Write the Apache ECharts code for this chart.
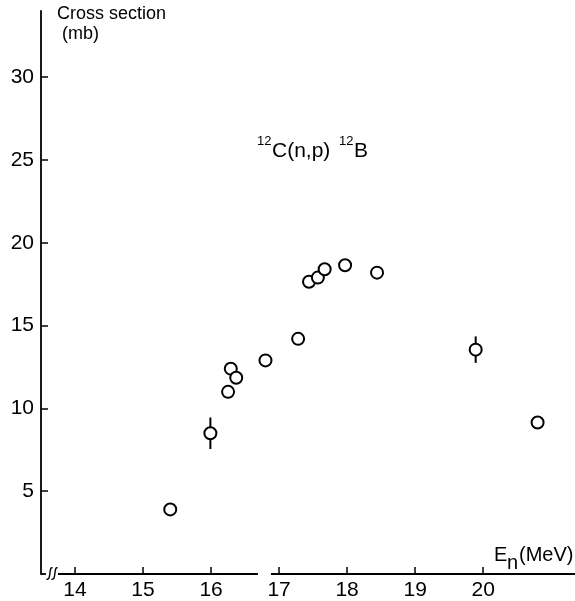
<!DOCTYPE html>
<html><head><meta charset="utf-8">
<script src="https://cdn.jsdelivr.net/npm/echarts@6/dist/echarts.min.js"></script>
<style>html,body{margin:0;padding:0;background:#fff}#c{width:575px;height:601px}</style>
</head><body><div id="c"></div>
<script>
// Neutron energy (MeV)
const energy   = [15.40, 15.99, 16.25, 16.29, 16.37, 16.80, 17.28, 17.44, 17.57, 17.67, 17.97, 18.44, 19.89, 20.80];
// Cross section (mb)
const sigma    = [3.9, 8.5, 11.0, 12.4, 11.85, 12.9, 14.2, 17.65, 17.9, 18.4, 18.65, 18.2, 13.55, 9.15];
// Error (mb), 0 = no bar drawn
const sigmaErr = [0, 0.95, 0, 0, 0, 0, 0, 0, 0, 0, 0, 0, 0.8, 0];
const xTicks = [14, 15, 16, 17, 18, 19, 20];
const yTicks = [5, 10, 15, 20, 25, 30];
const xRange = [13.5, 21.35];
const yRange = [0, 34];
// Broken x-axis line pieces (MeV)
const axisPieces = [[13.5, 13.574], [13.75, 16.689], [16.88, 21.35]];
const breakMarks = [13.625, 13.699];

const FONT = 'Liberation Sans';
const chart = echarts.init(document.getElementById('c'), null, {renderer: 'canvas'});

const pieceSeries = axisPieces.map(p => ({
  type: 'line', silent: true, clip: false, symbol: 'none', z: 1,
  lineStyle: {color: '#000', width: 1.8},
  data: [[p[0], 0], [p[1], 0]]
}));

const errData = energy.map((x, i) => [x, sigma[i], sigmaErr[i]]).filter(d => d[2] > 0);

chart.setOption({
  animation: false,
  backgroundColor: '#fff',
  grid: {left: 41, right: 0, top: 11, bottom: 23, containLabel: false},
  xAxis: {
    type: 'value', min: xRange[0], max: xRange[1],
    axisLine: {show: false},
    splitLine: {show: false},
    axisTick: {show: true, inside: true, length: 7, customValues: xTicks, lineStyle: {color: '#000', width: 1.5}},
    axisLabel: {show: true, customValues: xTicks, margin: 6, color: '#000', fontFamily: FONT, fontSize: 21}
  },
  yAxis: {
    type: 'value', min: yRange[0], max: yRange[1],
    axisLine: {show: true, lineStyle: {color: '#000', width: 1.8}},
    splitLine: {show: false},
    axisTick: {show: true, inside: true, length: 7, customValues: yTicks, lineStyle: {color: '#000', width: 1.5}},
    axisLabel: {show: true, customValues: yTicks, margin: 7, color: '#000', fontFamily: FONT, fontSize: 21}
  },
  graphic: [
    {type: 'text', left: 57, top: 5, style: {text: 'Cross section', font: '18px ' + FONT, fill: '#000'}},
    {type: 'text', left: 62, top: 25, style: {text: '(mb)', font: '18px ' + FONT, fill: '#000'}},
    {type: 'text', left: 257, top: 135, style: {text: '12', font: '13px ' + FONT, fill: '#000'}},
    {type: 'text', left: 272, top: 141, style: {text: 'C(n,p)', font: '21px ' + FONT, fill: '#000'}},
    {type: 'text', left: 339, top: 135, style: {text: '12', font: '13px ' + FONT, fill: '#000'}},
    {type: 'text', left: 354, top: 141, style: {text: 'B', font: '21px ' + FONT, fill: '#000'}},
    {type: 'text', left: 494, top: 545, style: {text: 'E', font: '20px ' + FONT, fill: '#000'}},
    {type: 'text', left: 507, top: 553, style: {text: 'n', font: '20px ' + FONT, fill: '#000'}},
    {type: 'text', left: 519, top: 545, style: {text: '(MeV)', font: '20px ' + FONT, fill: '#000'}}
  ],
  series: [
    ...pieceSeries,
    {
      type: 'custom', silent: true, z: 2, clip: false,
      data: breakMarks.map(x => [x, 0]),
      renderItem: (params, api) => {
        const p = api.coord([api.value(0), api.value(1)]);
        return {
          type: 'bezierCurve',
          shape: {x1: p[0] + 3, y1: p[1] - 6, cpx1: p[0] - 1, cpy1: p[1] - 8, cpx2: p[0] + 2, cpy2: p[1] + 7, x2: p[0] - 3, y2: p[1] + 5},
          style: {stroke: '#000', lineWidth: 1.4, fill: null}
        };
      }
    },
    {
      type: 'custom', silent: true, z: 3,
      data: errData,
      renderItem: (params, api) => {
        const x = api.value(0), y = api.value(1), e = api.value(2);
        const a = api.coord([x, y - e]);
        const b = api.coord([x, y + e]);
        return {type: 'line', shape: {x1: a[0], y1: a[1], x2: b[0], y2: b[1]}, style: {stroke: '#000', lineWidth: 2}};
      }
    },
    {
      type: 'scatter', z: 5, symbol: 'circle', symbolSize: 12,
      itemStyle: {color: '#fff', borderColor: '#000', borderWidth: 2, opacity: 1},
      data: energy.map((x, i) => [x, sigma[i]])
    }
  ]
});
</script>
</body></html>
